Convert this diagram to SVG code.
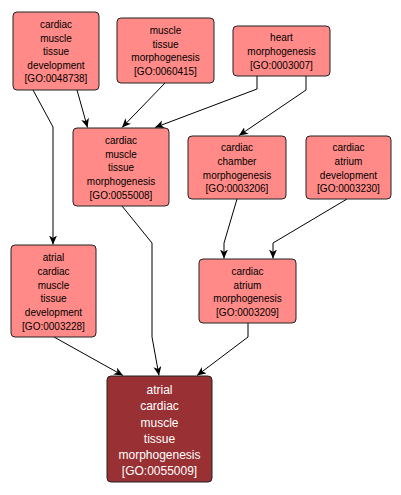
<svg xmlns="http://www.w3.org/2000/svg" width="401" height="495" viewBox="0 0 401 495">
<style>
.n rect{fill:#ff8a87;stroke:#222;stroke-width:1}
.n text{font-family:"Liberation Sans",Arial,sans-serif;font-size:10px;fill:#000;text-anchor:middle}
.t rect{fill:#993033;stroke:#222;stroke-width:1}
.t text{font-family:"Liberation Sans",Arial,sans-serif;font-size:12px;fill:#fff;text-anchor:middle}
.e path{fill:none;stroke:#000;stroke-width:1;marker-end:url(#arr)}
</style>
<defs>
<marker id="arr" markerWidth="10" markerHeight="10" refX="9" refY="4" orient="auto" markerUnits="userSpaceOnUse">
<path d="M0,0 L9,4 L0,8 L2.5,4 z" fill="#000"/>
</marker>
</defs>
<rect width="401" height="495" fill="#fff"/>
<g id="edges" class="e">
<path d="M77,90 L87.5,127.5"/>
<path d="M33,90 L53,127 L53,244.5"/>
<path d="M165,83 L122,127.5"/>
<path d="M257,76 L257,89 L155,127.5"/>
<path d="M306,76 L306,90 L239,135.5"/>
<path d="M122,206 L152,243 L152,337 L159,375.5"/>
<path d="M237,199 L224,243 L224,258.5"/>
<path d="M347,199 L273,243 L273,258.5"/>
<path d="M54,337 L123,375.5"/>
<path d="M248,323 L248,337 L197,375.5"/>
</g>
<g id="n1" class="n"><rect x="13" y="12" width="86" height="78" rx="4"/>
<text x="56" y="28">cardiac</text><text x="56" y="41.5">muscle</text><text x="56" y="55">tissue</text><text x="56" y="68.5">development</text><text x="56" y="82">[GO:0048738]</text></g>
<g id="n2" class="n"><rect x="117" y="18" width="97" height="65" rx="4"/>
<text x="165.5" y="34">muscle</text><text x="165.5" y="47.5">tissue</text><text x="165.5" y="61">morphogenesis</text><text x="165.5" y="74.5">[GO:0060415]</text></g>
<g id="n3" class="n"><rect x="233" y="26" width="97" height="50" rx="4"/>
<text x="281.5" y="41">heart</text><text x="281.5" y="55">morphogenesis</text><text x="281.5" y="68.5">[GO:0003007]</text></g>
<g id="n4" class="n"><rect x="73" y="128" width="96" height="78" rx="4"/>
<text x="121" y="144">cardiac</text><text x="121" y="157.5">muscle</text><text x="121" y="171">tissue</text><text x="121" y="185">morphogenesis</text><text x="121" y="198.5">[GO:0055008]</text></g>
<g id="n5" class="n"><rect x="188" y="136" width="98" height="63" rx="4"/>
<text x="237" y="151">cardiac</text><text x="237" y="165">chamber</text><text x="237" y="178.5">morphogenesis</text><text x="237" y="192">[GO:0003206]</text></g>
<g id="n6" class="n"><rect x="306" y="136" width="85" height="63" rx="4"/>
<text x="348.5" y="151">cardiac</text><text x="348.5" y="165">atrium</text><text x="348.5" y="178.5">development</text><text x="348.5" y="192">[GO:0003230]</text></g>
<g id="n7" class="n"><rect x="11" y="245" width="85" height="92" rx="4"/>
<text x="53.5" y="261">atrial</text><text x="53.5" y="274.5">cardiac</text><text x="53.5" y="288.5">muscle</text><text x="53.5" y="302">tissue</text><text x="53.5" y="316">development</text><text x="53.5" y="330">[GO:0003228]</text></g>
<g id="n8" class="n"><rect x="199" y="259" width="97" height="64" rx="4"/>
<text x="247.5" y="275">cardiac</text><text x="247.5" y="288.5">atrium</text><text x="247.5" y="302">morphogenesis</text><text x="247.5" y="316">[GO:0003209]</text></g>
<g id="n9" class="t"><rect x="107" y="376" width="105" height="106" rx="4"/>
<text x="159.5" y="393.5">atrial</text><text x="159.5" y="410">cardiac</text><text x="159.5" y="426.5">muscle</text><text x="159.5" y="442.5">tissue</text><text x="159.5" y="459">morphogenesis</text><text x="159.5" y="475">[GO:0055009]</text></g>
</svg>
